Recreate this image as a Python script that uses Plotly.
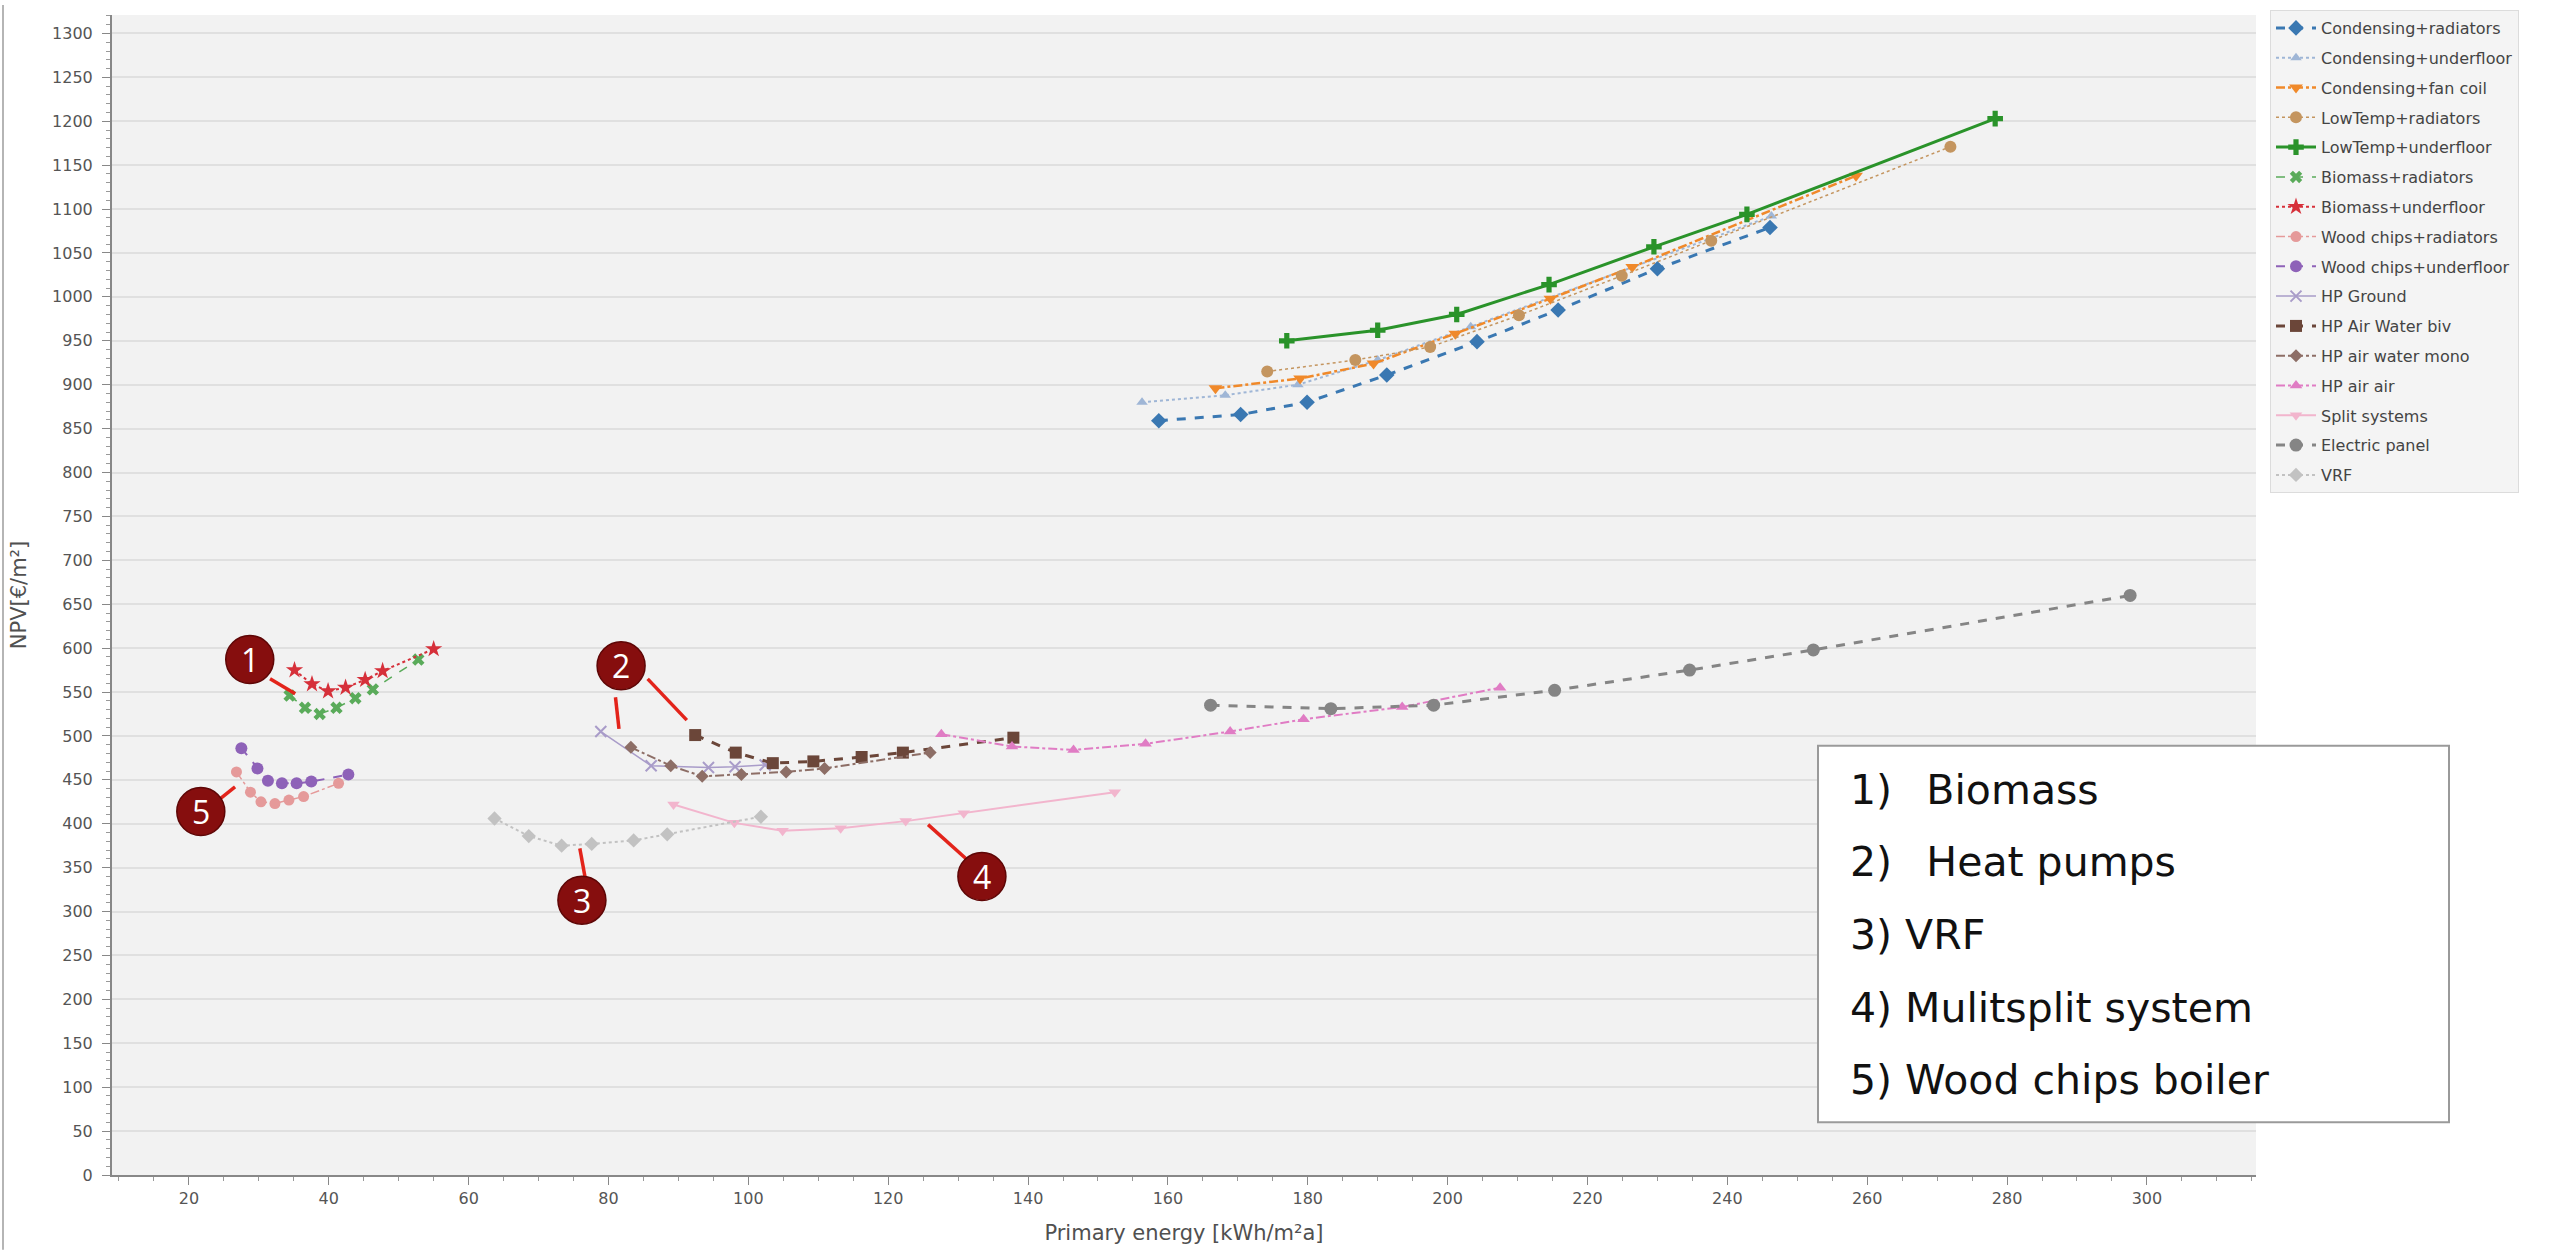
import plotly.graph_objects as go

# ---------------- data ----------------
series_names = ["Condensing+radiators", "Condensing+underfloor", "Condensing+fan coil",
                "LowTemp+radiators", "LowTemp+underfloor", "Biomass+radiators",
                "Biomass+underfloor", "Wood chips+radiators", "Wood chips+underfloor",
                "HP Ground", "HP Air Water biv", "HP air water mono", "HP air air",
                "Split systems", "Electric panel", "VRF"]

cond_rad_x = [158.7, 170.4, 179.9, 191.3, 204.2, 215.8, 230.0, 246.1]
cond_rad_y = [859, 866, 880, 911, 949, 985, 1032, 1079]
cond_uf_x = [156.3, 168.2, 178.6, 190.0, 203.3, 246.3]
cond_uf_y = [880, 888, 900, 928, 966, 1092]
cond_fan_x = [166.8, 178.9, 189.4, 201.1, 214.7, 226.4, 258.4]
cond_fan_y = [896, 907, 924, 958, 998, 1034, 1138]
lt_rad_x = [174.2, 186.8, 197.5, 210.2, 224.9, 237.7, 271.9]
lt_rad_y = [915, 928, 943, 979, 1024, 1064, 1171]
lt_uf_x = [177.0, 190.0, 201.3, 214.5, 229.5, 242.8, 278.3]
lt_uf_y = [950, 962, 980, 1014, 1057, 1094, 1203]
bio_rad_x = [34.4, 36.6, 38.7, 41.1, 43.8, 46.3, 52.8]
bio_rad_y = [546, 532, 525, 532, 543, 553, 587]
bio_uf_x = [35.1, 37.6, 39.9, 42.4, 45.2, 47.7, 55.0]
bio_uf_y = [575, 559, 551, 555, 564, 574, 599]
wc_rad_x = [26.8, 28.8, 30.3, 32.3, 34.3, 36.4, 41.4]
wc_rad_y = [459, 436, 425, 423, 427, 431, 446]
wc_uf_x = [27.5, 29.8, 31.3, 33.3, 35.4, 37.5, 42.8]
wc_uf_y = [486, 463, 449, 446, 446, 448, 456]
hp_ground_x = [78.9, 86.1, 94.3, 98.1, 102.4]
hp_ground_y = [505, 466, 464, 465, 467]
hp_biv_x = [92.4, 98.2, 103.5, 109.3, 116.2, 122.1, 137.9]
hp_biv_y = [501, 481, 469, 471, 476, 481, 498]
hp_mono_x = [83.2, 88.9, 93.4, 99.0, 105.4, 110.9, 126.0]
hp_mono_y = [487, 466, 454, 456, 459, 463, 481]
hp_aa_x = [127.6, 137.7, 146.5, 156.8, 168.9, 179.4, 193.5, 207.5]
hp_aa_y = [502, 488, 484, 491, 505, 519, 533, 555]
split_x = [89.3, 98.0, 104.9, 113.2, 122.5, 130.8, 152.4]
split_y = [422, 401, 392, 395, 403, 412, 436]
elec_x = [166.1, 183.3, 198.0, 215.3, 234.6, 252.3, 297.6]
elec_y = [535, 531, 535, 552, 575, 598, 660]
vrf_x = [63.7, 68.6, 73.3, 77.6, 83.6, 88.4, 101.8]
vrf_y = [406, 386, 375, 377, 381, 388, 408]

box_lines = ["1)\u00a0\u00a0\u2009Biomass", "2)\u00a0\u00a0\u2009Heat pumps", "3) VRF",
             "4) Mulitsplit system", "5) Wood chips boiler"]
callout_labels = ["1", "2", "3", "4", "5"]
callout_x = [28.7, 81.8, 76.2, 133.4, 21.7]
callout_y = [587, 580, 313, 340, 414]
pointer_x0 = [31.6, 85.6, 75.9, 125.7, 24.4, 81.0]
pointer_y0 = [565, 565, 372, 399, 428, 544]
pointer_x1 = [35.2, 91.2, 76.7, 131.3, 26.6, 81.5]
pointer_y1 = [548, 518, 337, 359, 442, 508]

# ---------------- styles ----------------
data_xy = [(cond_rad_x, cond_rad_y), (cond_uf_x, cond_uf_y), (cond_fan_x, cond_fan_y),
           (lt_rad_x, lt_rad_y), (lt_uf_x, lt_uf_y), (bio_rad_x, bio_rad_y),
           (bio_uf_x, bio_uf_y), (wc_rad_x, wc_rad_y), (wc_uf_x, wc_uf_y),
           (hp_ground_x, hp_ground_y), (hp_biv_x, hp_biv_y), (hp_mono_x, hp_mono_y),
           (hp_aa_x, hp_aa_y), (split_x, split_y), (elec_x, elec_y), (vrf_x, vrf_y)]
colors = ["#3a78b2", "#9fb6d6", "#f0892a", "#c4955f", "#2a932a", "#5aab5a",
          "#d6303a", "#e59a9a", "#8e62b8", "#a99cc9", "#6b4639", "#8d6e66",
          "#e07cc4", "#f2b5cd", "#858585", "#c2c2c2"]
symbols = ["diamond", "triangle-up", "triangle-down", "circle", "cross", "x",
           "star", "circle", "circle", "x-thin-open", "square", "diamond",
           "triangle-up", "triangle-down", "circle", "diamond"]
dashes = ["dash", "dot", "dashdot", "dot", "solid", "dash", "dot", "dashdot", "dash",
          "solid", "dash", "dashdot", "dashdot", "solid", "dash", "dot"]
widths = [3, 2, 2.5, 1.5, 3, 1.5, 2, 1.5, 2, 1.5, 3, 2, 2, 2, 3, 2]
msizes = [12, 10, 12, 12, 13, 11, 13, 11, 12, 11, 12, 10, 11, 11, 13, 11]

fig = go.Figure()
for name, (xs, ys), c, s, d, w, ms in zip(series_names, data_xy, colors, symbols, dashes, widths, msizes):
    fig.add_trace(go.Scatter(
        x=xs, y=ys, name=name, legendgroup=name, mode="lines+markers",
        line=dict(color=c, width=w, dash=d),
        marker=dict(symbol=s, size=ms, color=c,
                    line=dict(width=2 if s == "x-thin-open" else 0, color=c)),
    ))

# plot area in pixels
L, R, T, B = 112, 2256, 10, 1175
W, H = 2552, 1250
pw, ph = R - L, B - T


def px(xp):
    return (xp - L) / pw


def py(yp):
    return (B - yp) / ph


shapes = []
annotations = []

# pointer lines
for x0, y0, x1, y1 in zip(pointer_x0, pointer_y0, pointer_x1, pointer_y1):
    shapes.append(dict(type="line", xref="x", yref="y", x0=x0, y0=y0, x1=x1, y1=y1,
                       line=dict(color="#e3241b", width=3.5), layer="above"))
# callout circles
for lab, cx, cy in zip(callout_labels, callout_x, callout_y):
    shapes.append(dict(type="circle", xref="x", yref="y", xsizemode="pixel", ysizemode="pixel",
                       xanchor=cx, yanchor=cy, x0=-24, x1=24, y0=-24, y1=24,
                       fillcolor="#860e0e", line=dict(color="#5e0606", width=1.5), layer="above"))
    annotations.append(dict(x=cx, y=cy, xref="x", yref="y", text=lab, showarrow=False,
                            font=dict(family="Open Sans", size=32, color="white")))

# info box
shapes.append(dict(type="rect", xref="paper", yref="paper",
                   x0=px(1818), x1=px(2449), y0=py(1122), y1=py(744),
                   fillcolor="white", line=dict(color="#9a9a9a", width=2), layer="above"))
for i, t in enumerate(box_lines):
    ypix = 788 + i * 73
    annotations.append(dict(x=px(1848), y=py(ypix), xref="paper", yref="paper", text=t,
                            showarrow=False, xanchor="left", yanchor="middle",
                            font=dict(family="DejaVu Sans", size=41, color="#111111")))

# outer frame line on left
shapes.append(dict(type="line", xref="paper", yref="paper", x0=px(3), x1=px(3),
                   y0=py(0), y1=py(1250), line=dict(color="#b5b5b5", width=2)))

fig.update_layout(
    width=W, height=H,
    margin=dict(l=L, r=W - R, t=T, b=H - B, pad=0),
    paper_bgcolor="white", plot_bgcolor="#f2f2f2",
    font=dict(family="DejaVu Sans", color="#555555", size=16),
    showlegend=True,
    legend=dict(x=px(2270), y=py(5), xanchor="left", yanchor="top",
                bgcolor="#f4f4f4", bordercolor="#dcdcdc", borderwidth=1,
                font=dict(family="DejaVu Sans", size=16, color="#444444"),
                tracegroupgap=6, itemwidth=40, traceorder="grouped"),
    shapes=shapes, annotations=annotations,
    xaxis=dict(range=[9, 315.6], tick0=0, dtick=20, ticks="outside", ticklen=8,
               tickcolor="#888888", showline=True, linecolor="#888888", linewidth=2,
               showgrid=False, zeroline=False,
               minor=dict(dtick=5, ticks="outside", ticklen=4, tickcolor="#999999"),
               title=dict(text="Primary energy [kWh/m²a]", font=dict(size=21, color="#505050"),
                          standoff=18),
               tickfont=dict(size=16, color="#555555")),
    yaxis=dict(range=[0, 1321], tick0=0, dtick=50, ticks="outside", ticklen=8,
               tickcolor="#888888", showline=True, linecolor="#888888", linewidth=2,
               showgrid=True, gridcolor="#e0e0e0", gridwidth=2, zeroline=False,
               ticklabelstandoff=6,
               minor=dict(dtick=10, ticks="outside", ticklen=4, tickcolor="#999999"),
               title=dict(text="NPV[€/m²]", font=dict(size=21, color="#505050"), standoff=20),
               tickfont=dict(size=16, color="#555555")),
)

fig.write_html("out.html", config={"displayModeBar": False},
               post_script="document.body.style.margin='0';")
